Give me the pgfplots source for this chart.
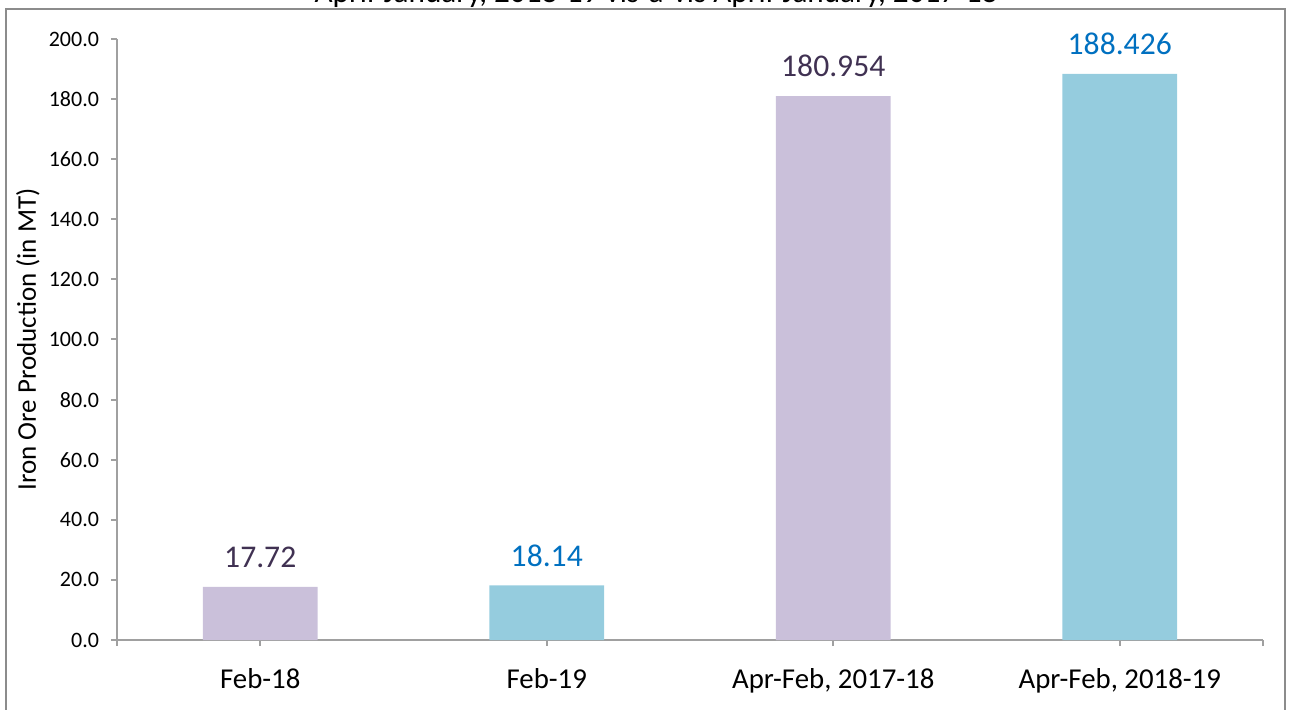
\documentclass[border=0pt]{standalone}
\usepackage{fontspec}
\setmainfont{Carlito}
\usepackage{pgfplots}
\pgfplotsset{compat=1.18}
\definecolor{barpurple}{HTML}{CAC0DA}
\definecolor{barblue}{HTML}{95CCDE}
\definecolor{labpurple}{HTML}{403152}
\definecolor{labblue}{HTML}{0070C0}
\definecolor{axgray}{HTML}{A0A0A0}
\definecolor{framegray}{HTML}{8C8C8C}
\begin{document}
\begin{tikzpicture}
\useasboundingbox (0,0) rectangle (645bp,355bp);
% frame
\draw[framegray, line width=1bp] (2.8bp,-2bp) -- (2.8bp,350.5bp) -- (642.5bp,350.5bp) -- (642.5bp,-2bp);
% title (cut off at top)
\node[anchor=base, font=\fontsize{15.6bp}{18bp}\selectfont] at (328bp,353.6bp) {April-January, 2018-19 vis-à-vis April-January, 2017-18};
\begin{axis}[
  at={(58.5bp,35bp)}, anchor=south west,
  scale only axis, width=573bp, height=300.5bp,
  xmin=-0.5, xmax=3.5, ymin=0, ymax=200,
  axis x line*=bottom, axis y line*=left,
  axis line style={axgray, line width=1bp},
  every tick/.style={axgray, line width=1bp},
  tick align=outside,
  major tick length=3bp,
  ytick={0,20,...,200},
  /pgf/number format/assume math mode=true,
  yticklabel style={font=\fontsize{11bp}{13bp}\selectfont, xshift=-2.5bp},
  y tick label style={/pgf/number format/fixed, /pgf/number format/fixed zerofill, /pgf/number format/precision=1},
  xtick={0,1,2,3},
  xticklabels={Feb-18, Feb-19, {Apr-Feb, 2017-18}, {Apr-Feb, 2018-19}},
  xticklabel style={font=\fontsize{14.4bp}{16bp}\selectfont, yshift=-7.5bp},
  extra x ticks={-0.5,3.5},
  extra x tick labels={},
  ylabel={Iron Ore Production (in MT)},
  ylabel style={font=\fontsize{13.5bp}{15bp}\selectfont, at={(axis description cs:-0.0777,0.5)}, anchor=center},
  ybar, bar width=0.4, bar shift=0pt,
  nodes near coords,
  point meta=explicit symbolic,
  every node near coord/.append style={font=\fontsize{15.8bp}{18bp}\selectfont, anchor=south, yshift=6bp},
  clip=false,
]
\addplot[fill=barpurple, draw=none, nodes near coords style={text=labpurple}] coordinates {(0,17.72) [17.72] (2,180.954) [180.954]};
\addplot[fill=barblue, draw=none, nodes near coords style={text=labblue}] coordinates {(1,18.14) [18.14] (3,188.426) [188.426]};
\end{axis}
\end{tikzpicture}
\end{document}
